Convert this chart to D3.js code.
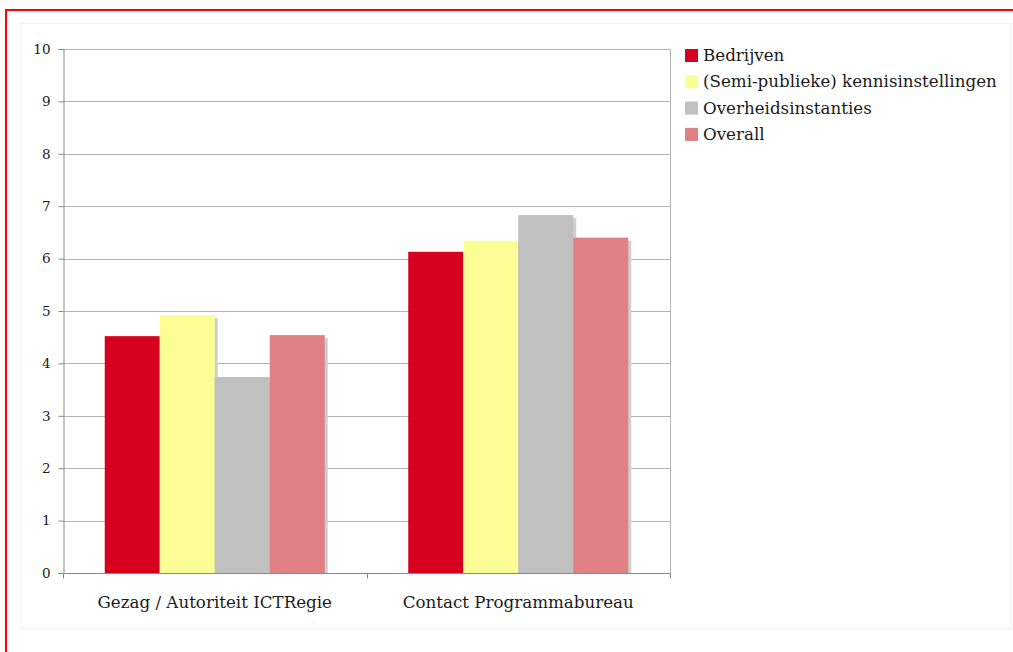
<!DOCTYPE html>
<html>
<head>
<meta charset="utf-8">
<script src="https://cdn.jsdelivr.net/npm/d3@7/dist/d3.min.js"></script>
<style>
  html, body { margin: 0; padding: 0; background: #ffffff; }
  svg { display: block; }
  text { font-family: "DejaVu Serif", "Liberation Serif", serif; fill: #1a1a1a; }
</style>
</head>
<body>
<svg id="chart" width="1013" height="652"></svg>
<script>
const categories = ["Gezag / Autoriteit ICTRegie", "Contact Programmabureau"];
const seriesNames = ["Bedrijven", "(Semi-publieke) kennisinstellingen", "Overheidsinstanties", "Overall"];
const seriesColors = ["#d7001f", "#fafe94", "#c0c0c0", "#e08186"];
const bedrijven = [4.52, 6.13];
const kennisinstellingen = [4.92, 6.34];
const overheidsinstanties = [3.74, 6.83];
const overall = [4.54, 6.40];
const yTicks = [0, 1, 2, 3, 4, 5, 6, 7, 8, 9, 10];

const seriesValues = [bedrijven, kennisinstellingen, overheidsinstanties, overall];

const svg = d3.select("#chart");

// frame decorations
svg.append("rect").attr("x", 20.5).attr("y", 23.5).attr("width", 991).attr("height", 605)
  .attr("fill", "#ffffff").attr("stroke", "#f2f2f2").attr("stroke-width", 1);
svg.append("line").attr("x1", 5).attr("x2", 1013).attr("y1", 10).attr("y2", 10)
  .attr("stroke", "#ff0000").attr("stroke-width", 2);
svg.append("line").attr("x1", 6).attr("x2", 6).attr("y1", 9).attr("y2", 652)
  .attr("stroke", "#ff0000").attr("stroke-width", 2);

const plot = { left: 63, right: 670, top: 49, bottom: 573 };

const x0 = d3.scaleBand().domain(categories).range([plot.left, plot.right]).paddingInner(0).paddingOuter(0);
const groupWidth = 220;
const x1 = d3.scaleBand().domain(seriesNames).range([0, groupWidth]).padding(0);
const y = d3.scaleLinear().domain([0, 10]).range([plot.bottom, plot.top]);

// gridlines
svg.append("g").selectAll("line").data(yTicks.filter(d => d > 0)).join("line")
  .attr("x1", plot.left).attr("x2", plot.right)
  .attr("y1", d => Math.round(y(d)) + 0.5).attr("y2", d => Math.round(y(d)) + 0.5)
  .attr("stroke", "#b3b3b3").attr("stroke-width", 1);

// right border of plot
svg.append("line").attr("x1", plot.right + 0.5).attr("x2", plot.right + 0.5)
  .attr("y1", plot.top).attr("y2", plot.bottom + 5)
  .attr("stroke", "#b3b3b3").attr("stroke-width", 1);

// bars
const data = [];
categories.forEach((c, ci) => {
  seriesNames.forEach((s, si) => {
    data.push({ cat: c, series: s, si: si, value: seriesValues[si][ci] });
  });
});
const groupOffset = (x0.bandwidth() - groupWidth) / 2;

const barG = svg.append("g");
// shadows
barG.selectAll("rect.shadow").data(data).join("rect").attr("class", "shadow")
  .attr("x", d => x0(d.cat) + groupOffset + x1(d.series) + 3)
  .attr("y", d => y(d.value) + 3)
  .attr("width", x1.bandwidth())
  .attr("height", d => y(0) - y(d.value) - 3)
  .attr("fill", "#cfcfcf");
data.forEach(d => {
  barG.append("rect")
    .attr("x", x0(d.cat) + groupOffset + x1(d.series))
    .attr("y", y(d.value))
    .attr("width", x1.bandwidth())
    .attr("height", y(0) - y(d.value))
    .attr("fill", seriesColors[d.si]);
});

// y axis
const yAxis = d3.axisLeft(y).tickValues(yTicks).tickSize(5).tickPadding(8).tickFormat(d3.format("d"));
const yg = svg.append("g").attr("transform", `translate(${plot.left + 0.5},0)`).call(yAxis);
yg.select(".domain").attr("stroke", "#888");
yg.selectAll(".tick line").attr("stroke", "#888");
yg.selectAll(".tick text").attr("font-size", 13.5).attr("font-family", "DejaVu Serif").attr("fill", "#1a1a1a");

// x axis
const xg = svg.append("g").attr("transform", `translate(0,${plot.bottom + 0.5})`);
xg.append("line").attr("x1", plot.left - 5).attr("x2", plot.right).attr("y1", 0).attr("y2", 0).attr("stroke", "#888");
const xTickPos = [plot.left, x0(categories[1]), plot.right];
xg.selectAll("line.tk").data(xTickPos).join("line").attr("class", "tk")
  .attr("x1", d => Math.round(d) + 0.5).attr("x2", d => Math.round(d) + 0.5)
  .attr("y1", 0).attr("y2", 5).attr("stroke", "#888");
xg.selectAll("text").data(categories).join("text")
  .attr("x", d => x0(d) + x0.bandwidth() / 2)
  .attr("y", 34)
  .attr("text-anchor", "middle")
  .attr("font-size", 16.7)
  .text(d => d);

// legend
const lg = svg.append("g").attr("transform", "translate(685,49)");
const rows = lg.selectAll("g").data(seriesNames).join("g")
  .attr("transform", (d, i) => `translate(0,${i * 26.3})`);
rows.append("rect").attr("width", 13).attr("height", 13).attr("fill", (d, i) => seriesColors[i]);
rows.append("text").attr("x", 18).attr("y", 12).attr("font-size", 16.7).text(d => d);
</script>
</body>
</html>
